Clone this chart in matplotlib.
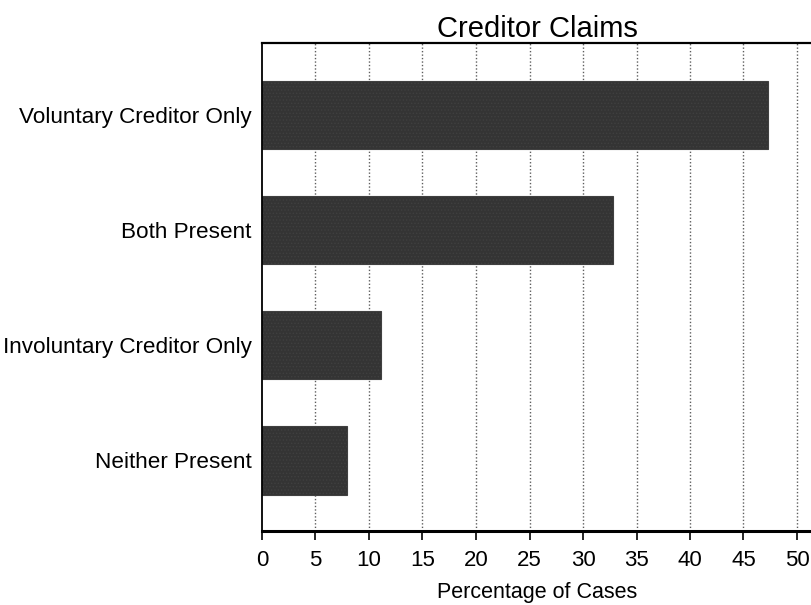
import matplotlib
matplotlib.use('Agg')
import numpy as np
import matplotlib.pyplot as plt

plt.rcParams['font.family'] = ['Liberation Sans', 'DejaVu Sans']
plt.rcParams['hatch.color'] = '#6e6e6e'
plt.rcParams['hatch.linewidth'] = 0.6

# Data
categories = ['Voluntary Creditor Only', 'Both Present',
              'Involuntary Creditor Only', 'Neither Present']
percentages = [47.3, 32.8, 11.1, 7.9]
x_ticks = [0, 5, 10, 15, 20, 25, 30, 35, 40, 45, 50]


fig = plt.figure(figsize=(8.12, 6.05), dpi=100)
ax = fig.add_axes([262 / 812, 1 - 531 / 605, 550 / 812, 488 / 605])

y = np.arange(len(categories))
ax.barh(y, percentages, height=0.593, color='#343434', edgecolor='#404040',
        hatch='.....', linewidth=0.8, zorder=2)

# Dotted vertical grid behind the bars
for xv in x_ticks[1:]:
    ax.axvline(xv, color='#5e5e5e', linestyle=(0, (1, 1.5)), linewidth=1.0, zorder=1)

ax.set_xlim(0, 550 / 10.7)
ax.set_ylim(3.612, -0.624)

ax.set_yticks(y)
ax.set_yticklabels(categories, fontsize=16.2)
ax.tick_params(axis='y', length=0, pad=7.5)

ax.set_xticks(x_ticks)
ax.set_xticklabels([str(v) for v in x_ticks], fontsize=16)
ax.tick_params(axis='x', direction='out', length=6.5, width=1.2, pad=7)

ax.set_xlabel('Percentage of Cases', fontsize=15.5, labelpad=8)
ax.set_title('Creditor Claims', fontsize=21, pad=3)

ax.spines['right'].set_visible(False)
ax.spines['left'].set_linewidth(1.3)
ax.spines['top'].set_linewidth(1.6)
ax.spines['bottom'].set_linewidth(2.2)

fig.savefig('out.png', dpi=100)
